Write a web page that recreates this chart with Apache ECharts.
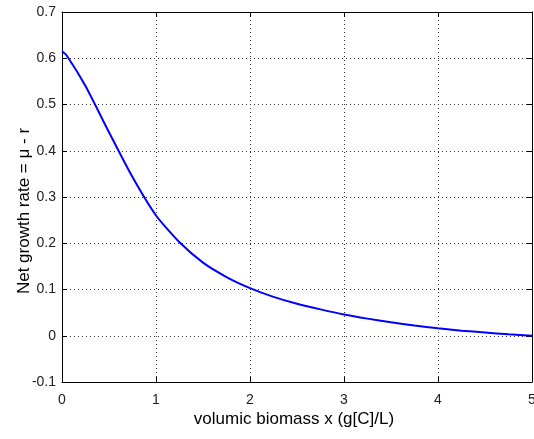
<!DOCTYPE html>
<html>
<head>
<meta charset="utf-8">
<script src="https://cdn.jsdelivr.net/npm/echarts@6/dist/echarts.min.js"></script>
<style>html,body{margin:0;padding:0;background:#fff;}#c{width:534px;height:439px;}</style>
</head>
<body>
<div id="c"></div>
<script>
var xValues = [0, 0.05, 0.25, 0.5, 0.75, 1.0, 1.25, 1.5, 1.75, 2.0, 2.25, 2.5, 2.75, 3.0, 3.25, 3.5, 3.75, 4.0, 4.25, 4.5, 4.75, 5.0];
var netGrowth = [0.615, 0.606, 0.54, 0.44, 0.343, 0.26, 0.202, 0.158, 0.127, 0.103, 0.084, 0.069, 0.057, 0.046, 0.037, 0.029, 0.022, 0.016, 0.011, 0.007, 0.003, 0.0];
var xTitle = 'volumic biomass x (g[C]/L)';
var yTitle = 'Net growth rate = μ - r';

var chart = echarts.init(document.getElementById('c'), null, {renderer: 'canvas'});
var pts = xValues.map(function (x, i) { return [x, netGrowth[i]]; });
var labelFont = {fontFamily: 'Liberation Sans', fontSize: 14, color: '#222'};
var gridLine = {show: true, lineStyle: {color: '#333', width: 1, type: [1, 3]}};
var axisLine = {show: true, onZero: false, lineStyle: {color: '#000', width: 1}};
var tick = {show: true, inside: true, length: 5, lineStyle: {color: '#000'}};

chart.setOption({
  animation: false,
  backgroundColor: '#fff',
  grid: {left: 62, right: 2, top: 12, bottom: 57, containLabel: false, outerBoundsMode: 'none'},
  xAxis: [
    {type: 'value', min: 0, max: 5, interval: 1, position: 'bottom',
     axisLine: axisLine, axisTick: tick, splitLine: gridLine,
     axisLabel: Object.assign({margin: 11}, labelFont)},
    {type: 'value', min: 0, max: 5, interval: 1, position: 'top',
     axisLine: axisLine, axisTick: tick, splitLine: {show: false}, axisLabel: {show: false}}
  ],
  yAxis: [
    {type: 'value', min: -0.1, max: 0.7, interval: 0.1, position: 'left',
     axisLine: axisLine, axisTick: tick, splitLine: gridLine,
     axisLabel: Object.assign({margin: 6, formatter: function (v) {
       return Math.abs(v) < 1e-9 ? '0' : v.toFixed(1);
     }}, labelFont)},
    {type: 'value', min: -0.1, max: 0.7, interval: 0.1, position: 'right',
     axisLine: axisLine, axisTick: tick, splitLine: {show: false}, axisLabel: {show: false}}
  ],
  series: [{
    type: 'line', data: pts, smooth: 0.2, showSymbol: false,
    lineStyle: {color: '#0000ff', width: 2}, xAxisIndex: 0, yAxisIndex: 0
  }],
  graphic: [
    {type: 'text', x: 294, y: 419, style: {text: xTitle, fontFamily: 'Liberation Sans', fontSize: 17, fill: '#000', align: 'center', verticalAlign: 'middle'}},
    {type: 'text', x: 24, y: 211, rotation: Math.PI / 2, style: {text: yTitle, fontFamily: 'Liberation Sans', fontSize: 17, fill: '#000', align: 'center', verticalAlign: 'middle'}}
  ]
});
</script>
</body>
</html>
